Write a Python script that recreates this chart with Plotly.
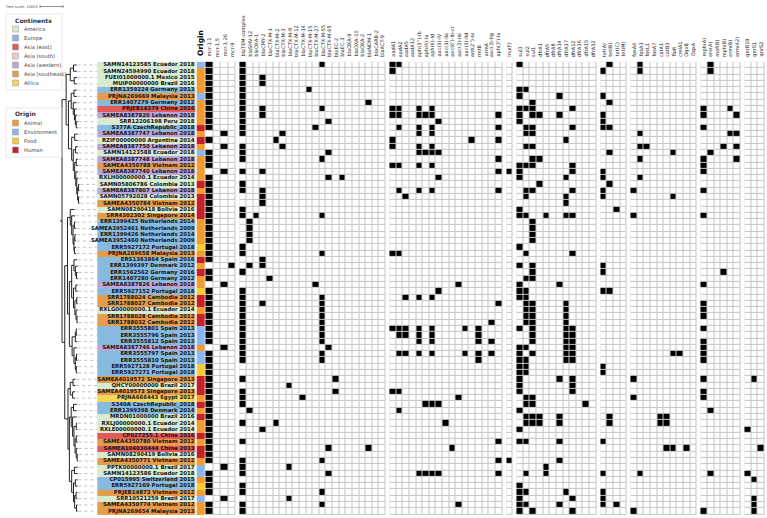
import plotly.graph_objects as go

# ------------------------------------------------------------------ data
STRAINS = [
    "SAMN14123585 Ecuador 2018", "SAMN24594990 Ecuador 2018", "FUEI01000000.1 Mexico 2015",
    "MUIP00000000 Brazil 2016", "ERR1359224 Germany 2013", "PRJNA269669 Malaysia 2013",
    "ERR1407279 Germany 2012", "PRJEB14379 China 2016", "SAMEA8387820 Lebanon 2018",
    "SRR12206198 Peru 2018", "S377A CzechRepublic_2018", "SAMEA8387747 Lebanon 2018",
    "RZIF00000000 Argentina 2014", "SAMEA8387750 Lebanon 2018", "SAMN14123588 Ecuador 2018",
    "SAMEA8387748 Lebanon 2018", "SAMEA4350788 Vietnam 2012", "SAMEA8387740 Lebanon 2018",
    "RXLH00000000.1 Ecuador 2014", "SAMN05806786 Colombia 2013", "SAMEA8387807 Lebanon 2018",
    "SAMN05792028 Colombia 2013", "SAMEA4350784 Vietnam 2012", "SAMN08290418 Bolivia 2016",
    "SRR4302302 Singapore 2014", "ERR1399425 Netherlands 2014", "SAMEA3952461 Netherlands 2009",
    "ERR1399426 Netherlands 2014", "SAMEA3952460 Netherlands 2009", "ERR5927172 Portugal 2018",
    "PRJNA269658 Malaysia 2013", "ERS1363864 Spain 2016", "ERR1399397 Denmark 2012",
    "ERR1562562 Germany 2016", "ERR1407280 Germany 2012", "SAMEA8387826 Lebanon 2018",
    "ERR5927152 Portugal 2018", "SRR1788024 Cambodia 2012", "SRR1788027 Cambodia 2012",
    "RXLG00000000.1 Ecuador 2014", "SRR1788028 Cambodia 2012", "SRR1788032 Cambodia 2012",
    "ERR3555801 Spain 2013", "ERR3555796 Spain 2013", "ERR3555812 Spain 2013",
    "SAMEA8387746 Lebanon 2018", "ERR3555797 Spain 2013", "ERR3555810 Spain 2013",
    "ERR5927128 Portugal 2018", "ERR5927271 Portugal 2018", "SAMEA4019572 Singapore 2013",
    "QHCY00000000 Brazil 2017", "SAMEA4019573 Singapore 2013", "PRJNA666443 Egypt 2017",
    "S340A CzechRepublic_2018", "ERR1399398 Denmark 2014", "MRDN01000000 Brazil 2016",
    "RXLJ00000000.1 Ecuador 2014", "RXLE00000000.1 Ecuador 2014", "CP027255.1 China 2016",
    "SAMEA4350780 Vietnam 2012", "SAMEA104030444 China 2013", "SAMN08290419 Bolivia 2016",
    "SAMEA4350771 Vietnam 2012", "PPTK00000000.1 Brazil 2017", "SAMN14123586 Ecuador 2018",
    "CP015995 Switzerland 2015", "ERR5927169 Portugal 2018", "PRJEB14873 Vietnam 2012",
    "SRR10521259 Brazil 2017", "SAMEA4350774 Vietnam 2012", "PRJNA269654 Malaysia 2013",
]

CONTINENTS = ["America", "Europe", "Asia (east)", "Asia (south)", "Asia (western)",
              "Asia (southeast)", "Africa"]
CONTINENT_COLORS = ["#d8ebd0", "#88b9df", "#e05b5b", "#f6c4cd", "#b9a6dc", "#e59c4c", "#f5d65a"]
STRAIN_CONTINENT = [0, 0, 0, 0, 1, 5, 1, 2, 4, 0, 1, 4, 0, 4, 0, 4, 5, 4, 0, 0, 4, 0, 5, 0, 5,
                    1, 1, 1, 1, 1, 5, 1, 1, 1, 1, 4, 1, 5, 5, 0, 5, 5, 1, 1, 1, 4, 1, 1, 1, 1,
                    5, 0, 5, 6, 1, 1, 0, 0, 0, 2, 5, 2, 0, 5, 0, 0, 1, 1, 5, 0, 5, 5]

ORIGINS = ["Animal", "Environment", "Food", "Human"]
ORIGIN_COLORS = ["#f29b30", "#8db5f2", "#f7cb30", "#c3202a"]
STRAIN_ORIGIN = [1, 0, 0, 0, 0, 1, 0, 0, 0, 0, 3, 0, 3, 0, 1, 0, 0, 0, 0, 3, 0, 3, 3, 3, 3,
                 0, 0, 0, 0, 2, 0, 3, 0, 3, 0, 0, 2, 3, 3, 0, 3, 3, 1, 1, 1, 0, 1, 1, 2, 2,
                 3, 3, 3, 0, 3, 0, 3, 0, 0, 3, 0, 3, 3, 0, 1, 1, 0, 2, 0, 1, 0, 0]

GENE_GROUPS = [
    ["mcr-1.1", "mcr-1.5", "mcr-1.26", "mcr-9"],
    ["blaTEM-complex", "blaSHV-12", "blaOXA-1", "blaCMY-2", "blaCTX-M-1", "blaCTX-M-2",
     "blaCTX-M-3", "blaCTX-M-8", "blaCTX-M-12", "blaCTX-M-14", "blaCTX-M-15", "blaCTX-M-27",
     "blaCTX-M-55", "blaCTX-M-65", "blaEC-2", "blaEC-3", "blaOXA-9", "blaOXA-10", "blaOXA-2",
     "blaNDM-1", "blaCARB-2", "blaACT-9"],
    ["aadA1", "aadA2", "aadA5", "aadA12", "aph(3'')-Ib", "aph(4)-Ia", "aph(6)-Id", "aac(3)-IV",
     "aac(3)-IIa", "aac(6')-Ib-cr", "aac(3)-IIe", "aac(3)-IId", "ant(2'')-Ia", "rmtB", "armA",
     "aac(3)-IIg", "aph(3')-Ia"],
    ["lnu(F)"],
    ["sul3", "sul2", "sul1", "dfrA1", "dfrA5", "dfrA8", "dfrA14", "dfrA17", "dfrA12", "dfrA16",
     "dfrA15", "dfrA32"],
    ["tet(A)", "tet(B)", "tet(C)", "tet(M)"],
    ["fosA4", "fosA3", "fosL1", "fosA7", "catA1", "catB3", "floR", "cmlA1", "OqxB", "OqxA"],
    ["mph(A)", "ere(A)", "mef(B)", "mph(B)", "erm(B)", "erm(42)"],
    ["qnrB19", "qnrS1", "qnrS2"],
]

# rows (1-based, top to bottom) in which each gene is present
GENE_ROWS = {
    "mcr-1.1": [1, 2, 3, 4, 5, 6, 7, 8, 9, 10, 11, 13, 15, 16, 17, 19, 20, 21, 22, 23, 24, 25,
                26, 27, 28, 29, 30, 31, 32, 34, 35, 37, 38, 39, 40, 41, 42, 43, 44, 45, 47, 48,
                49, 50, 51, 52, 53, 54, 55, 56, 57, 58, 59, 60, 61, 62, 63, 64, 66, 67, 68, 69,
                71, 72],
    "mcr-1.26": [12, 14, 18, 36, 46, 65, 70],
    "mcr-9": [33],
    "blaTEM-complex": [1, 2, 3, 4, 5, 6, 7, 8, 9, 10, 11, 12, 14, 15, 16, 18, 20, 21, 24, 25,
                       30, 31, 34, 37, 38, 39, 40, 41, 42, 43, 44, 45, 46, 47, 48, 51, 53, 54,
                       55, 58, 61, 64, 65, 66, 68, 69, 71, 72],
    "blaSHV-12": [26, 27, 28, 29, 33, 56],
    "blaOXA-1": [25],
    "blaCMY-2": [3, 4, 8, 9, 18, 21, 22, 23, 32, 33, 39, 59],
    "blaCTX-M-1": [35],
    "blaCTX-M-2": [13, 58],
    "blaCTX-M-3": [12, 14],
    "blaCTX-M-8": [52, 65, 70],
    "blaCTX-M-14": [54],
    "blaCTX-M-15": [5],
    "blaCTX-M-27": [11, 36],
    "blaCTX-M-55": [1, 8, 16, 25, 31, 38, 39, 40, 41, 42, 43, 44, 45, 47, 48, 64, 69, 71],
    "blaCTX-M-65": [10, 15, 19, 46, 62, 66],
    "blaEC-2": [51, 53],
    "blaEC-3": [19],
    "blaNDM-1": [7, 62],
    "aadA1": [1, 2, 8, 9, 13, 14, 17, 31, 43, 53],
    "aadA2": [1, 8, 9, 11, 17, 21, 31, 43, 44, 47, 53, 56],
    "aadA5": [22, 38, 43, 44, 47],
    "aph(3'')-Ib": [8, 9, 11, 12, 14, 15, 17, 21, 38, 43, 44, 45, 47, 66],
    "aph(4)-Ia": [9, 15, 55, 66],
    "aph(6)-Id": [8, 9, 11, 12, 14, 15, 17, 21, 38, 43, 44, 45, 47, 55, 66],
    "aac(3)-IV": [10, 15, 19, 37, 55, 66],
    "aac(3)-IIa": [58],
    "aac(6')-Ib-cr": [62],
    "aac(3)-IIe": [36, 54, 71],
    "aac(3)-IId": [43, 47],
    "ant(2'')-Ia": [13],
    "rmtB": [43, 44, 45, 47, 48],
    "aac(3)-IIg": [42, 45, 47],
    "aph(3')-Ia": [9, 11, 13, 16, 18, 21, 39, 61, 64, 66],
    "lnu(F)": [18, 64],
    "sul3": [1, 5, 6, 8, 9, 10, 17, 18, 19, 24, 25, 30, 33, 36, 37, 38, 43, 46, 47, 48, 49, 50,
             51, 52, 53, 56, 59, 61, 68, 69, 70, 71, 72],
    "sul2": [5, 8, 11, 12, 14, 17, 21, 22, 25, 31, 35, 37, 38, 39, 40, 41, 42, 46, 48, 49, 50,
             54, 55, 57, 58, 61, 66, 69, 71],
    "sul1": [7, 8, 9, 11, 12, 14, 16, 17, 21, 26, 27, 28, 29, 33, 34, 35, 39, 40, 41, 42, 43,
             44, 45, 47, 54, 55, 57, 58, 72],
    "dfrA1": [9, 16, 20, 57, 58],
    "dfrA5": [25, 65, 66],
    "dfrA14": [6, 9, 36, 51, 57, 58, 61, 64, 71],
    "dfrA17": [13, 19, 22, 23, 25, 39, 40, 41, 42, 43, 44, 45, 46, 47, 48, 69],
    "dfrA12": [8, 11, 17, 18, 21, 25, 31, 43, 44, 45, 46, 47, 48, 51, 52, 53, 70, 72],
    "dfrA15": [55],
    "tet(A)": [2, 6, 9, 10, 11, 18, 19, 21, 22, 33, 34, 37, 49, 50, 61, 66, 69, 70, 71],
    "tet(B)": [1, 7, 11, 15, 20, 37, 57, 58],
    "tet(C)": [24, 71],
    "fosA4": [21, 25, 51, 54, 72],
    "fosA3": [1, 2, 12, 14, 16, 19, 66],
    "fosL1": [14],
    "catA1": [57, 58],
    "catB3": [57, 58, 62],
    "floR": [15, 22, 47, 62],
    "cmlA1": [47],
    "OqxB": [62],
    "mph(A)": [8, 9, 11, 16, 17, 18, 21, 25, 36, 39, 40, 41, 43, 45, 46, 47, 48, 51, 53, 54, 72],
    "ere(A)": [1, 2, 15, 56, 66],
    "mph(B)": [14, 34],
    "erm(B)": [8, 12],
    "erm(42)": [9, 12, 14, 16],
    "qnrB19": [59, 66],
    "qnrS1": [51, 67, 70, 71, 72],
    "qnrS2": [62],
}

# Newick tree (leaf Ln = row n), branch lengths in tree units
TREE_A1 = "((L1:1400,L2:1400):1400,(L3:1200,L4:1200):1700)"
TREE_A2 = "((L5:1200,L6:1200):1200,(L7:1400,(L8:1000,(L9:800,(L10:600,L11:600):400):400):500):900)"
TREE_A3 = ("((L12:1300,L13:1300):1300,((L14:1000,L15:1000):1000,((L16:800,L17:800):700,"
           "(L18:900,(L19:700,((L20:400,L21:400):400,(L22:400,L23:400):400):400):400):500):600):700)")
TREE_B1 = ("(L24:1800,(L25:1500,((L26:600,L27:600):600,((L28:500,L29:500):400,"
           "(L30:700,L31:700):200):400):600):600)")
TREE_B2 = ("((L32:1400,(L33:1000,(L34:600,L35:600):500):600):1000,((L36:800,L37:800):1000,"
           "((L38:400,L39:400):800,(L40:800,(L41:400,L42:400):400):500):600):800)")
TREE_B3 = "(((L43:400,L44:400):400,L45:800):1400,(L46:1200,((L47:400,L48:400):500,(L49:500,L50:500):400):600):800)"
TREE_C1 = "((L51:1000,L52:1000):1200,(L53:1100,L54:1100):1000)"
TREE_C2 = ("((L55:1400,L56:1400):1000,(L57:1800,((L58:400,L59:400):1000,((L60:600,L61:600):500,"
           "(L62:600,(L63:400,L64:400):400):500):500):600):600)")
TREE_C3 = "((L65:1400,L66:1400):1200,((L67:1000,L68:1000):800,((L69:600,L70:600):600,(L71:500,L72:500):800):500):800)"
TREE_NEWICK = ("((" + TREE_A1 + ":1800,(" + TREE_A2 + ":1200," + TREE_A3 + ":1400):1000):1800,"
               "((" + TREE_B1 + ":1200,(" + TREE_B2 + ":1000," + TREE_B3 + ":1200):800):1200,"
               "(" + TREE_C1 + ":1000,(" + TREE_C2 + ":800," + TREE_C3 + ":1000):600):1400):1200);")
TREE_SCALE = 10000

# ------------------------------------------------------------------ layout constants
W, H = 767, 518
ROW_PX = 6.285
ROW0_PX = 65.0
CELL_W = 6.62
MCR_CELL_W = 7.6
GROUP_GAP = 4.0
MATRIX_X0 = 205.5
ORIGIN_X = (196.7, 204.3)
LABEL_X = (97.3, 195.5)
TREE_X0 = 62.0
TREE_PX = 23.0 / TREE_SCALE
FONT = "DejaVu Sans"

nrow = len(STRAINS)
rows = list(range(nrow))


def py(p):  # pixel row -> y data
    return (p - ROW0_PX) / ROW_PX


def discrete_scale(colors):
    n = len(colors)
    cs = []
    for i, c in enumerate(colors):
        cs.append([i / n, c])
        cs.append([(i + 1) / n, c])
    return cs


fig = go.Figure()

# ---------------- tree
def parse_newick(s):
    pos = [0]

    def node():
        children = []
        if s[pos[0]] == "(":
            pos[0] += 1
            while True:
                children.append(node())
                ch = s[pos[0]]
                pos[0] += 1
                if ch == ")":
                    break
        st = pos[0]
        while s[pos[0]] not in ":,);":
            pos[0] += 1
        name = s[st:pos[0]]
        length = 0.0
        if s[pos[0]] == ":":
            pos[0] += 1
            st = pos[0]
            while s[pos[0]] not in ",);":
                pos[0] += 1
            length = float(s[st:pos[0]])
        return {"name": name, "len": length, "children": children}

    return node()


tree = parse_newick(TREE_NEWICK)


def place(nd, depth):
    nd["x"] = depth + nd["len"]
    if nd["children"]:
        for c in nd["children"]:
            place(c, nd["x"])
        nd["y"] = (nd["children"][0]["y"] + nd["children"][-1]["y"]) / 2
    else:
        nd["y"] = int(nd["name"][1:]) - 1


place(tree, 0.0)
bx, by, lx, ly = [], [], [], []


def walk(nd):
    if nd["children"]:
        xn = TREE_X0 + nd["x"] * TREE_PX
        ys = [c["y"] for c in nd["children"]]
        bx.extend([xn, xn, None]); by.extend([min(ys), max(ys), None])
        for c in nd["children"]:
            xc = TREE_X0 + c["x"] * TREE_PX
            bx.extend([xn, xc, None]); by.extend([c["y"], c["y"], None])
            walk(c)
    else:
        xc = TREE_X0 + nd["x"] * TREE_PX
        lx.extend([xc + 0.8, LABEL_X[0] - 0.5, None]); ly.extend([nd["y"], nd["y"], None])


walk(tree)
bx = [TREE_X0 - 2, TREE_X0, None] + bx
by = [tree["y"], tree["y"], None] + by
fig.add_trace(go.Scatter(x=lx, y=ly, mode="lines", line=dict(color="#a8a8a8", width=0.7, dash="dot"),
                         hoverinfo="skip"))
fig.add_trace(go.Scatter(x=bx, y=by, mode="lines", line=dict(color="#222222", width=1.0),
                         hoverinfo="skip"))

# tree scale
sy = py(6.5)
sx0 = 40.0
sx1 = sx0 + TREE_SCALE * TREE_PX
fig.add_trace(go.Scatter(x=[sx0, sx1, None, sx0, sx0, None, sx1, sx1],
                         y=[sy, sy, None, sy - 0.25, sy + 0.25, None, sy - 0.25, sy + 0.25],
                         mode="lines", line=dict(color="#777", width=0.8), hoverinfo="skip"))
fig.add_annotation(x=3, y=sy, text=f"Tree scale: {TREE_SCALE}", showarrow=False,
                   xanchor="left", yanchor="middle", font=dict(size=3.6, color="#555", family=FONT))

# ---------------- label backgrounds (continent) + text
nC = len(CONTINENTS)
fig.add_trace(go.Heatmap(z=[[c] for c in STRAIN_CONTINENT], x=list(LABEL_X), y=rows,
                         colorscale=discrete_scale(CONTINENT_COLORS), zmin=-0.5, zmax=nC - 0.5,
                         showscale=False, hoverinfo="skip"))
fig.add_trace(go.Scatter(x=[LABEL_X[1] - 1.0] * nrow, y=rows, mode="text", text=STRAINS,
                         textposition="middle left",
                         textfont=dict(size=5.4, family=FONT, color="#141414", weight="bold"),
                         hoverinfo="skip"))

# ---------------- origin column
nO = len(ORIGINS)
fig.add_trace(go.Heatmap(z=[[o] for o in STRAIN_ORIGIN], x=list(ORIGIN_X), y=rows,
                         colorscale=discrete_scale(ORIGIN_COLORS), zmin=-0.5, zmax=nO - 0.5,
                         showscale=False, hoverinfo="skip"))
fig.add_annotation(x=(ORIGIN_X[0] + ORIGIN_X[1]) / 2, y=py(58.5), text="<b>Origin</b>", showarrow=False,
                   textangle=-90, xanchor="center", yanchor="bottom",
                   font=dict(size=7.5, color="#111", family=FONT))

# ---------------- presence/absence matrix
edges = [MATRIX_X0]
col_genes = []          # gene name or None for gap column
group_edges, group_z = [MATRIX_X0], []
for gi, grp in enumerate(GENE_GROUPS):
    w = MCR_CELL_W if gi == 0 else CELL_W
    for g in grp:
        edges.append(edges[-1] + w)
        col_genes.append(g)
    group_edges.append(edges[-1]); group_z.append(1)
    if gi < len(GENE_GROUPS) - 1:
        edges.append(edges[-1] + GROUP_GAP)
        col_genes.append(None)
        group_edges.append(edges[-1]); group_z.append(None)

z = []
for r in range(nrow):
    rowz = []
    for g in col_genes:
        if g is None:
            rowz.append(None)
        else:
            rowz.append(1 if (r + 1) in GENE_ROWS.get(g, []) else 0)
    z.append(rowz)

fig.add_trace(go.Heatmap(z=[group_z], x=group_edges, y=[-0.5, nrow - 0.5],
                         colorscale=[[0, "#c4c4c4"], [1, "#c4c4c4"]], showscale=False, hoverinfo="skip"))
fig.add_trace(go.Heatmap(z=z, x=edges, y=rows, colorscale=[[0, "#ffffff"], [1, "#000000"]],
                         zmin=0, zmax=1, xgap=1, ygap=1, showscale=False, hoverinfo="skip"))

for i, g in enumerate(col_genes):
    if g is None:
        continue
    fig.add_annotation(x=(edges[i] + edges[i + 1]) / 2, y=py(58.8), text=g, showarrow=False,
                       textangle=-90, xanchor="center", yanchor="bottom",
                       font=dict(size=5.0, color="#222", family=FONT))

# ---------------- legends
def legend_block(title, names, colors, top_px):
    box_top = top_px - 6
    box_bot = top_px + 9 * len(names) + 7
    fig.add_shape(type="rect", x0=6, x1=62, y0=py(box_top), y1=py(box_bot),
                  line=dict(color="#e2e2e2", width=0.8), fillcolor="rgba(0,0,0,0)")
    fig.add_annotation(x=12.5, y=py(top_px), text=f"<b>{title}</b>", showarrow=False,
                       xanchor="left", yanchor="middle", font=dict(size=6.0, color="#333", family=FONT))
    ys = [py(top_px + 9 * (k + 1)) for k in range(len(names))]
    fig.add_trace(go.Scatter(x=[15.5] * len(names), y=ys, mode="markers",
                             marker=dict(symbol="square", size=6, color=colors,
                                         line=dict(color="#9a9a9a", width=0.5)),
                             hoverinfo="skip"))
    for k, nm in enumerate(names):
        fig.add_annotation(x=21.5, y=ys[k], text=nm, showarrow=False, xanchor="left", yanchor="middle",
                           font=dict(size=5.2, color="#444", family=FONT))


legend_block("Continents", CONTINENTS, CONTINENT_COLORS, 20)
legend_block("Origin", ORIGINS, ORIGIN_COLORS, 114)

fig.update_layout(
    width=W, height=H, margin=dict(l=0, r=0, t=0, b=0),
    paper_bgcolor="white", plot_bgcolor="white", showlegend=False,
    xaxis=dict(range=[0, W], visible=False, fixedrange=True),
    yaxis=dict(range=[py(H), py(0)], visible=False, fixedrange=True),
)
fig.write_html("out.html", config={"displayModeBar": False},
               post_script="document.body.style.margin='0';document.body.style.overflow='hidden';")
